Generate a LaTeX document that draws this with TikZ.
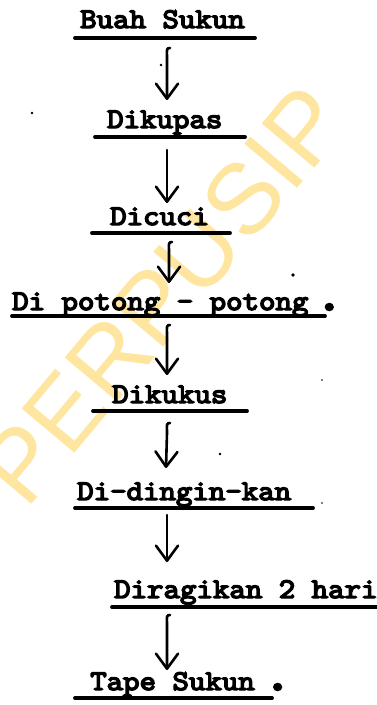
\documentclass[tikz,border=0pt]{standalone}
\usepackage{fontspec}
\usetikzlibrary{arrows.meta,calc}
\newfontfamily\wmfont{Liberation Sans}
\newfontfamily\twfam{lmmono10-regular}[Extension=.otf, FakeBold=5, FakeStretch=1.1]
\definecolor{wmyellow}{HTML}{FFE6A0}
\tikzset{
  stepnode/.style={anchor=base west, inner sep=0pt, font=\twfam\fontsize{28.5}{30}\selectfont},
  wmark/.style={inner sep=0pt, text=wmyellow, font=\wmfont\fontsize{100}{100}\selectfont},
  uline/.style={line width=3.8pt, line cap=round},
  flow/.style={line width=2.6pt, line cap=round, line join=round,
    -{Straight Barb[length=15pt,width=22pt,line width=2.6pt,round]}},
}
\begin{document}
\begin{tikzpicture}[x=1pt,y=-1pt]
\useasboundingbox (0,0) rectangle (377,705);
% watermark
\node[wmark, rotate=50] (wm) at (163,295) {PERPUSIP};
\coordinate (ax) at (167,0);
% steps
\node[stepnode] (n1) at (80,28) {Buah Sukun};
\node[stepnode] (n2) at (107,128) {Dikupas};
\node[stepnode] (n3) at (110,225) {Dicuci};
\node[stepnode] (n4) at (12,310) {Di potong - potong\hspace{7pt}{\fontsize{48}{48}\selectfont.}};
\node[stepnode] (n5) at (112,403) {Dikukus};
\node[stepnode] (n6) at (77,500) {Di-dingin-kan};
\node[stepnode] (n7) at (114,598) {Diragikan 2 hari};
\node[stepnode] (n8) at (90,690) {Tape Sukun\hspace{9pt}{\fontsize{48}{48}\selectfont.}};
% underlines
\draw[uline] (75,38) -- (255,38);
\draw[uline] (95,137) -- (245,137);
\draw[uline] (92,233) -- (230,233);
\draw[uline] (12,316) -- (325,316);
\draw[uline] (93,411) -- (247,411);
\draw[uline] (75,508) -- (313,508);
\draw[uline] (112,607) -- (380,607);
\draw[uline] (75,698) -- (272,698);
% connectors
\draw[flow] ($(n1.base -| ax)+(3,20)$) .. controls +(-4,0) and +(0,-8) .. ++(-3,10) -- ($(n2.base -| ax)+(0,-28)$);
\draw[flow] ($(n2.base -| ax)+(0,22)$) -- ($(n3.base -| ax)+(0,-22)$);
\draw[flow] ($(n3.base -| ax)+(5,17)$) .. controls +(-4,0) and +(0,-8) .. ++(-3,10) -- ($(n4.base -| ax)+(2,-27)$);
\draw[flow] ($(n4.base -| ax)+(3,15)$) .. controls +(-4,0) and +(0,-8) .. ++(-3,10) -- ($(n5.base -| ax)+(0,-28)$);
\draw[flow] ($(n5.base -| ax)+(3,20)$) .. controls +(-4,0) and +(0,-8) .. ++(-3,10) -- ($(n6.base -| ax)+(-1,-32)$);
\draw[flow] ($(n6.base -| ax)+(0,15)$) -- ($(n7.base -| ax)+(0,-36)$);
\draw[flow] ($(n7.base -| ax)+(3,17)$) .. controls +(-4,0) and +(0,-8) .. ++(-3,10) -- ($(n8.base -| ax)+(0,-20)$);
% specks
\fill (161,65) circle (1.3);
\fill (32,113) circle (1.3);
\fill (293,275) circle (1.8);
\fill (220,454) circle (1.3);
\fill (322,380) circle (0.9);
\fill (322,503) circle (0.9);
\end{tikzpicture}
\end{document}
